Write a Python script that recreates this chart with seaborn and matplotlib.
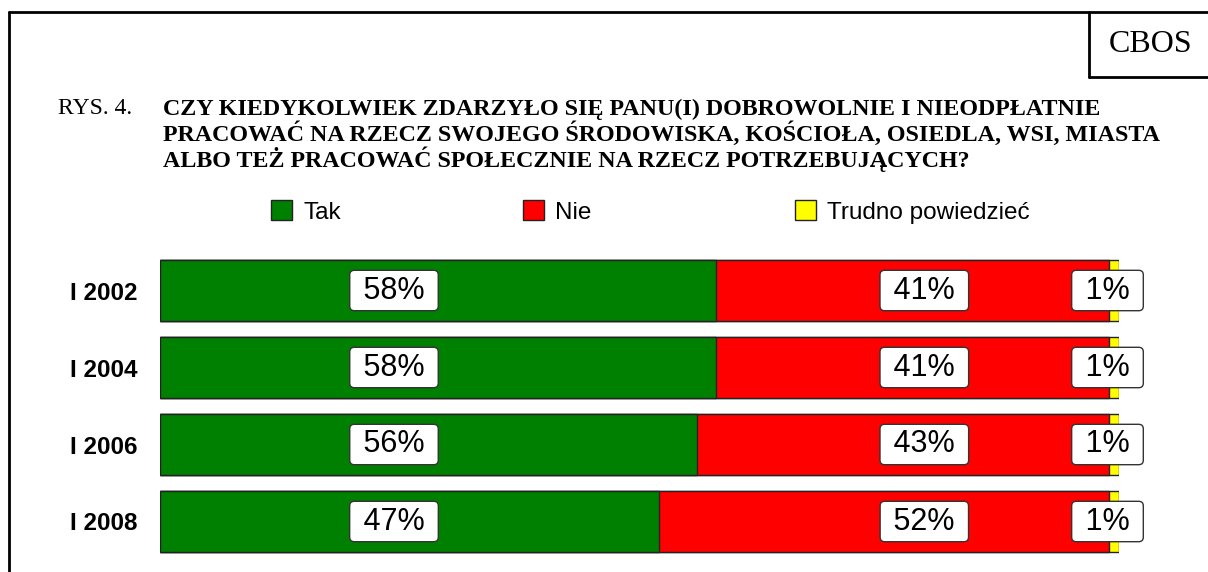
import numpy as np
import pandas as pd
import matplotlib
matplotlib.use('Agg')
import matplotlib.pyplot as plt
import matplotlib.patches as mpatches
from matplotlib.lines import Line2D
import seaborn as sns

# Dane z wykresu
lata = ['I 2002', 'I 2004', 'I 2006', 'I 2008']
# długości odcinków
tak = [58, 58, 56, 52]
nie = [41, 41, 43, 47]
trudno = [1, 1, 1, 1]
# podpisy w ramkach (tak jak na oryginale)
etyk_tak = ['58%', '58%', '56%', '47%']
etyk_nie = ['41%', '41%', '43%', '52%']
etyk_trudno = ['1%', '1%', '1%', '1%']
kategorie = ['Tak', 'Nie', 'Trudno powiedzieć']
kolory = ['#008000', '#FF0000', '#FFFF00']

sns.set_theme(style='white')
plt.rcParams['font.family'] = ['Liberation Sans', 'DejaVu Sans']
plt.rcParams['text.color'] = 'black'
plt.rcParams['ytick.labelcolor'] = 'black'

df = pd.DataFrame({'rok': lata, 'tak': tak, 'nie': nie, 'trudno': trudno})
# skumulowane sumy do słupków nakładanych
df['c_tak'] = df['tak']
df['c_nie'] = df['tak'] + df['nie']
df['c_trudno'] = df['tak'] + df['nie'] + df['trudno']

fig = plt.figure(figsize=(12.08, 5.72), dpi=100)
ax = fig.add_axes([160 / 1208, 12 / 572, 959 / 1208, 308 / 572])

for kol, c in zip(['c_trudno', 'c_nie', 'c_tak'], kolory[::-1]):
    sns.barplot(data=df, x=kol, y='rok', orient='h', color=c, saturation=1,
                width=0.79, edgecolor='#222222', linewidth=1.0, ax=ax)

ax.set_xlim(0, 100)
ax.set_ylim(3.5, -0.5)
ax.set_xlabel('')
ax.set_ylabel('')
ax.set_xticks([])
ax.tick_params(axis='y', length=0, pad=16.5)
for lab in ax.get_yticklabels():
    lab.set_fontweight('bold')
    lab.set_fontsize(17.5)
    lab.set_color('black')
for s in ax.spines.values():
    s.set_visible(False)

# etykiety procentowe w ramkach
poz_x = [24.4, 79.7, 98.8]
box = dict(boxstyle='round,pad=0.17,rounding_size=0.15', facecolor='white',
           edgecolor='#333333', linewidth=1.0)
for i in range(len(lata)):
    for j, t in enumerate([etyk_tak[i], etyk_nie[i], etyk_trudno[i]]):
        ax.text(poz_x[j], i, f' {t} ', ha='center', va='center',
                fontsize=22, color='black', bbox=box)

# legenda - trzy osobne wpisy
leg_x = [271, 523, 795]
for k, (nazwa, c) in enumerate(zip(kategorie, kolory)):
    h = mpatches.Patch(facecolor=c, edgecolor='#222222', linewidth=1.0)
    fig.legend(handles=[h], labels=[nazwa], loc='center left',
               bbox_to_anchor=(leg_x[k] / 1208, 1 - 212 / 572), frameon=False,
               fontsize=17.5, handlelength=0.88, handleheight=0.88,
               handletextpad=0.45, borderpad=0, borderaxespad=0,
               labelcolor='black')

# tytuł
serif = ['Liberation Serif', 'DejaVu Serif']
fig.text(58 / 1208, 1 - 109 / 572, 'RYS. 4.', family=serif, fontsize=17,
         va='center', ha='left', color='black')
linie = ['CZY KIEDYKOLWIEK ZDARZYŁO SIĘ PANU(I) DOBROWOLNIE I NIEODPŁATNIE',
         'PRACOWAĆ NA RZECZ SWOJEGO ŚRODOWISKA, KOŚCIOŁA, OSIEDLA, WSI, MIASTA',
         'ALBO TEŻ PRACOWAĆ SPOŁECZNIE NA RZECZ POTRZEBUJĄCYCH?']
for n, t in enumerate(linie):
    fig.text(163 / 1208, 1 - (109 + 25 * n) / 572, t, family=serif, fontsize=17.3,
             fontweight='bold', va='center', ha='left', color='black')

# ramka i pole CBOS
kw = dict(color='black', linewidth=2, transform=fig.transFigure)
fig.add_artist(Line2D([9 / 1208, 9 / 1208], [0, 1 - 12 / 572], **kw))
fig.add_artist(Line2D([9 / 1208, 1], [1 - 12 / 572, 1 - 12 / 572], **kw))
fig.add_artist(Line2D([1089 / 1208, 1089 / 1208], [1 - 12 / 572, 1 - 77 / 572], **kw))
fig.add_artist(Line2D([1089 / 1208, 1], [1 - 77 / 572, 1 - 77 / 572], **kw))
fig.text(1151 / 1208, 1 - 44 / 572, 'CBOS', family=serif, fontsize=23,
         va='center', ha='center', color='black')

fig.savefig('out.png', dpi=100)
